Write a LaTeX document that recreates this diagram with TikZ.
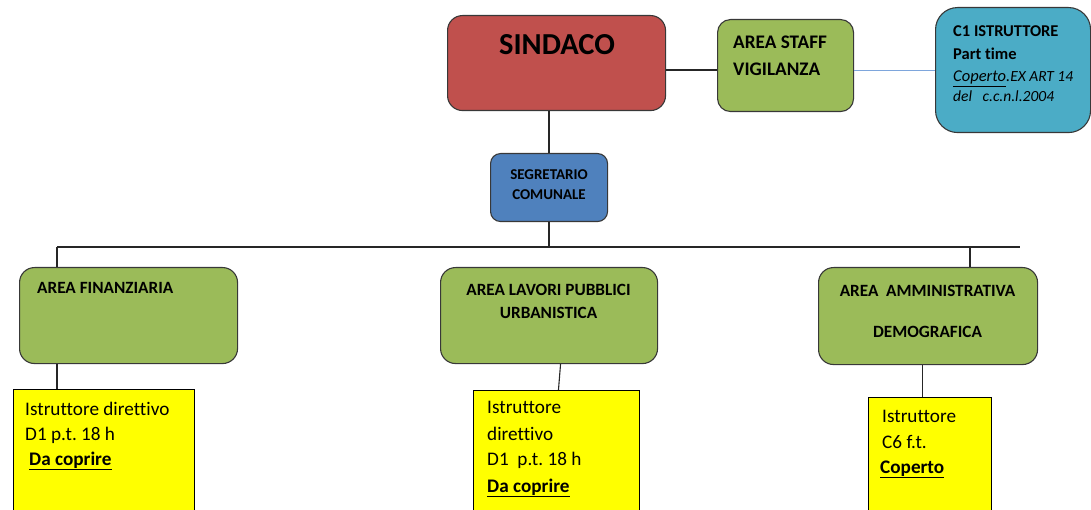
\documentclass[tikz,border=0pt]{standalone}
\usepackage{fontspec}
\setmainfont[Ligatures=NoCommon]{Carlito}
\frenchspacing
\definecolor{redbox}{HTML}{C0504D}
\definecolor{greenbox}{HTML}{9BBB59}
\definecolor{bluebox}{HTML}{4F81BD}
\definecolor{cyanbox}{HTML}{4BACC6}
\definecolor{yelbox}{HTML}{FFFF00}
\definecolor{bluewire}{HTML}{7EA6DC}
\tikzset{
  box/.style={draw=black!78, line width=1.1pt, anchor=north west, inner sep=0pt},
  ybox/.style={draw=black, line width=0.9pt, fill=yelbox, anchor=north west, inner sep=0pt},
  lbl/.style={inner sep=0pt, anchor=base west},
  clbl/.style={inner sep=0pt, anchor=base},
  wire/.style={draw=black!85, line width=1.1pt},
  bwire/.style={draw=bluewire, line width=0.9pt},
  areaf/.style={font=\fontsize{17.2}{20}\selectfont\bfseries},
  yf/.style={font=\fontsize{19.2}{22}\selectfont},
  c1f/.style={font=\fontsize{16.5}{20}\selectfont\bfseries},
  c1i/.style={font=\fontsize{15.5}{18}\selectfont\itshape},
}
\begin{document}
\begin{tikzpicture}[x=1pt,y=-1pt]
\useasboundingbox (0,0) rectangle (1091,510);
\clip (0,0) rectangle (1091,510);
% boxes
\node[box, fill=redbox, rounded corners=15pt, minimum width=218pt, minimum height=95pt] (sindaco) at (447,15) {};
\node[box, fill=greenbox, rounded corners=13pt, minimum width=136pt, minimum height=92pt] (staff) at (717,19) {};
\node[box, fill=cyanbox, rounded corners=22pt, minimum width=155pt, minimum height=125pt] (c1) at (935,7) {};
\node[box, fill=bluebox, rounded corners=10pt, minimum width=117pt, minimum height=68pt] (segr) at (490,153) {};
\node[box, fill=greenbox, rounded corners=15pt, minimum width=218pt, minimum height=96pt] (fin) at (19,267) {};
\node[box, fill=greenbox, rounded corners=15pt, minimum width=217pt, minimum height=96pt] (lav) at (440,267) {};
\node[box, fill=greenbox, rounded corners=15pt, minimum width=219pt, minimum height=97pt] (amm) at (818,267) {};
\node[ybox, minimum width=181pt, minimum height=140pt] (y1) at (13,389) {};
\node[ybox, minimum width=166pt, minimum height=140pt] (y2) at (473,390) {};
\node[ybox, minimum width=123pt, minimum height=130pt] (y3) at (868,397) {};
% connectors
\coordinate (busL) at (57,247);
\coordinate (busR) at (1020,247);
\coordinate (dropA) at (970,247);
\draw[wire] (sindaco.east |- c1.west) -- (staff.west |- c1.west);
\draw[bwire] (staff.east |- c1.west) -- (c1.west);
\draw[wire] (segr.north -| 549,0) -- (sindaco.south -| 549,0);
\draw[wire] (segr.south -| 549,0) -- (busL -| 549,0);
\draw[wire] (busL) -- (busR);
\draw[wire] (busL) -- (busL |- fin.north);
\draw[wire] (dropA) -- (dropA |- amm.north);
\draw[wire] (fin.south -| busL) -- (y1.north -| busL);
\draw[wire] ([xshift=11.5pt]lav.south) -- ([xshift=2pt]y2.north);
\draw[wire] ([xshift=-5.5pt]amm.south) -- ([xshift=-5.5pt]amm.south |- y3.north);
% texts
\node[clbl, font=\fontsize{30.5}{36}\selectfont\bfseries] (tsind) at (557,55) {SINDACO};
\node[lbl, font=\fontsize{19.2}{23}\selectfont\bfseries] (tst1) at (733,49) {AREA STAFF};
\node[lbl, font=\fontsize{19.2}{23}\selectfont\bfseries] (tst2) at (733,76) {VIGILANZA};
\node[lbl, c1f] (tc1a) at (953,37) {C1 ISTRUTTORE};
\node[lbl, c1f] (tc1b) at (953,60) {Part time};
\node[lbl, font=\fontsize{16.5}{20}\selectfont\itshape] (tc1c) at (953,82) {\underline{Coperto}.{\fontsize{15.5}{18}\selectfont EX ART 14}};
\node[lbl, c1i] (tc1d) at (953,102) {del\ \ \ c.c.n.l.2004};
\node[clbl, font=\fontsize{15}{18}\selectfont\bfseries] (tsg1) at (549,180) {SEGRETARIO};
\node[clbl, font=\fontsize{15}{18}\selectfont\bfseries] (tsg2) at (549,200) {COMUNALE};
\node[lbl, areaf] (tfin) at (37,294) {AREA FINANZIARIA};
\node[clbl, areaf] (tlav1) at (548.5,295) {AREA LAVORI PUBBLICI};
\node[clbl, areaf] (tlav2) at (548.5,319) {URBANISTICA};
\node[clbl, areaf] (tamm1) at (927.5,297) {AREA\ \ AMMINISTRATIVA};
\node[clbl, areaf] (tamm2) at (927.5,337) {DEMOGRAFICA};
\node[lbl, yf] (ty1a) at (25,415) {Istruttore direttivo};
\node[lbl, yf] (ty1b) at (25,440) {D1 p.t. 18 h};
\node[lbl, yf] (ty1c) at (29,465) {\bfseries\underline{Da coprire}};
\node[lbl, yf] (ty2a) at (487,413) {Istruttore};
\node[lbl, yf] (ty2b) at (487,440) {direttivo};
\node[lbl, yf] (ty2c) at (487,465) {D1\ \ p.t. 18 h};
\node[lbl, yf] (ty2d) at (487,492) {\bfseries\underline{Da coprire}};
\node[lbl, yf] (ty3a) at (882,422) {Istruttore};
\node[lbl, yf] (ty3b) at (882,448) {C6 f.t.};
\node[lbl, yf] (ty3c) at (880,473) {\bfseries\underline{Coperto}};
\end{tikzpicture}
\end{document}
